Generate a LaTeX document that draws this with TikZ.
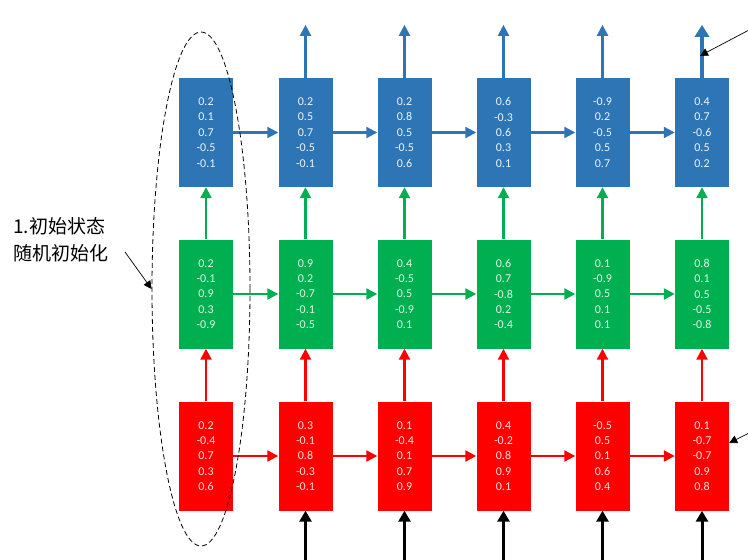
\documentclass[tikz,border=0pt]{standalone}
\usepackage{fontspec}
\setmainfont{Carlito}
\newfontfamily\cjk{Noto Sans CJK SC}
\usetikzlibrary{arrows.meta,shapes.geometric,calc}
\definecolor{cblue}{HTML}{2E75B6}
\definecolor{cgreen}{HTML}{00B050}
\definecolor{cred}{HTML}{FF0000}
\tikzset{
  cell/.style={rectangle, minimum width=54pt, minimum height=109pt, inner sep=0pt, align=center,
    font=\fontsize{12}{15.4}\selectfont},
  bcell/.style={cell, fill=cblue, text=white!92!cblue},
  gcell/.style={cell, fill=cgreen, text=white!88!cgreen},
  rcell/.style={cell, fill=cred, text=white!88!cred},
  flow/.style={line width=2.2pt, -{Triangle[length=11pt,width=11pt]}},
  bflow/.style={flow, draw=cblue},
  gflow/.style={flow, draw=cgreen},
  rflow/.style={flow, draw=cred},
  inflow/.style={line width=3pt, black, -{Triangle[length=11pt,width=12pt]}},
  note/.style={line width=0.7pt, black, -{Triangle[length=8pt,width=8pt]}},
}
\begin{document}
\begin{tikzpicture}[x=1pt,y=-1pt]
\useasboundingbox (0,0) rectangle (748,560);
% blue row
\node[bcell] (b1) at (206,132.5) {0.2\\0.1\\0.7\\-0.5\\-0.1};
\node[bcell] (b2) at (305.5,132.5) {0.2\\0.5\\0.7\\-0.5\\-0.1};
\node[bcell] (b3) at (404.5,132.5) {0.2\\0.8\\0.5\\-0.5\\0.6};
\node[bcell] (b4) at (503.5,132.5) {0.6\\-0.3\\0.6\\0.3\\0.1};
\node[bcell] (b5) at (602.5,132.5) {-0.9\\0.2\\-0.5\\0.5\\0.7};
\node[bcell] (b6) at (702,132.5) {0.4\\0.7\\-0.6\\0.5\\0.2};
% green row
\node[gcell] (g1) at (206,294) {0.2\\-0.1\\0.9\\0.3\\-0.9};
\node[gcell] (g2) at (305.5,294) {0.9\\0.2\\-0.7\\-0.1\\-0.5};
\node[gcell] (g3) at (404.5,294) {0.4\\-0.5\\0.5\\-0.9\\0.1};
\node[gcell] (g4) at (503.5,294) {0.6\\0.7\\-0.8\\0.2\\-0.4};
\node[gcell] (g5) at (602.5,294) {0.1\\-0.9\\0.5\\0.1\\0.1};
\node[gcell] (g6) at (702,294) {0.8\\0.1\\0.5\\-0.5\\-0.8};
% red row
\node[rcell] (r1) at (206,456) {0.2\\-0.4\\0.7\\0.3\\0.6};
\node[rcell] (r2) at (305.5,456) {0.3\\-0.1\\0.8\\-0.3\\-0.1};
\node[rcell] (r3) at (404.5,456) {0.1\\-0.4\\0.1\\0.7\\0.9};
\node[rcell] (r4) at (503.5,456) {0.4\\-0.2\\0.8\\0.9\\0.1};
\node[rcell] (r5) at (602.5,456) {-0.5\\0.5\\0.1\\0.6\\0.4};
\node[rcell] (r6) at (702,456) {0.1\\-0.7\\-0.7\\0.9\\0.8};
% horizontal flows
\foreach \a/\b in {1/2,2/3,3/4,4/5,5/6}{
  \draw[bflow] (b\a) -- (b\b);
  \draw[gflow] (g\a) -- (g\b);
  \draw[rflow] (r\a) -- (r\b);
}
% vertical flows
\foreach \i in {1,...,6}{
  \draw[gflow] (g\i) -- (b\i);
  \draw[rflow] (r\i) -- (g\i);
}
% outputs
\foreach \i in {2,...,5}{
  \coordinate (o\i) at ($(b\i.north)+(0,-53)$);
  \draw[bflow] (b\i) -- (o\i);
}
\coordinate (o6) at ($(b6.north)+(0,-53)$);
\draw[flow, draw=cblue, line width=3.2pt, -{Triangle[length=12pt,width=14pt]}] (b6) -- (o6);
% inputs
\foreach \i in {2,...,6}{
  \coordinate (in\i) at ($(r\i.south)+(0,52)$);
  \draw[inflow] (in\i) -- (r\i);
}
% initial state ellipse
\node[ellipse, draw, dash pattern=on 5pt off 3pt, line width=0.8pt, minimum width=98pt, minimum height=514pt, inner sep=0pt] (ell) at (201,289) {};
\node[anchor=north west, align=left, inner sep=0pt, font=\cjk\fontsize{19}{27}\selectfont] (lab) at (13,217) {1.初始状态\\随机初始化};
\coordinate (ls) at (125,252);
\draw[note] (ls) -- (ell.west);
% annotation arrows on right
\coordinate (n1s) at (749,30);
\coordinate (n1e) at ($(b6.north)+(-2,-22)$);
\draw[note] (n1s) -- (n1e);
\coordinate (n2s) at (749,433);
\coordinate (n2e) at ($(r6.east)+(0,-13)$);
\draw[note] (n2s) -- (n2e);
\end{tikzpicture}
\end{document}
